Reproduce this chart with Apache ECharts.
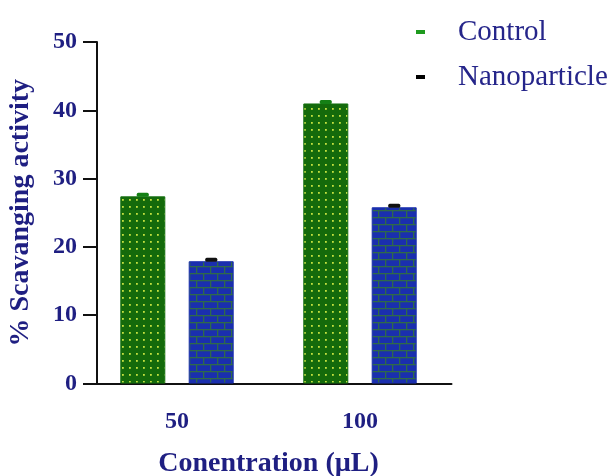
<!DOCTYPE html>
<html><head><meta charset="utf-8">
<script src="https://cdn.jsdelivr.net/npm/echarts@6/dist/echarts.min.js"></script>
<style>html,body{margin:0;padding:0;background:#fff}#c{width:613px;height:476px}</style>
</head><body><div id="c"></div>
<script>
const categories = ['50', '100'];
const controlValues = [27.4, 41.0];
const nanoValues = [17.9, 25.8];
const controlErr = [0.3, 0.3];
const nanoErr = [0.3, 0.3];
const yTicks = [0, 10, 20, 30, 40, 50];

function makePattern(kind) {
  const c = document.createElement('canvas');
  if (kind === 'dots') {
    c.width = 7; c.height = 7;
    const g = c.getContext('2d');
    g.fillStyle = '#146a0b'; g.fillRect(0, 0, 7, 7);
    g.fillStyle = '#c4e040'; g.fillRect(3, 3, 1.8, 1.8);
  } else {
    c.width = 14; c.height = 14;
    const g = c.getContext('2d');
    g.fillStyle = '#1a2fae'; g.fillRect(0, 0, 14, 14);
    g.fillStyle = '#2f6a4a';
    g.fillRect(0, 0, 14, 1.3); g.fillRect(0, 7, 14, 1.3);
    g.fillRect(0, 0, 1.3, 7); g.fillRect(7, 7, 1.3, 7);
  }
  return { image: c, repeat: 'repeat' };
}
function iconImg(color) {
  const c = document.createElement('canvas');
  c.width = 9; c.height = 4;
  const g = c.getContext('2d');
  g.fillStyle = color; g.fillRect(0, 0, 9, 4);
  return 'image://' + c.toDataURL();
}

const navy = '#1f1f82';
const font = '"Liberation Serif", "DejaVu Serif", serif';
const chart = echarts.init(document.getElementById('c'), null, { renderer: 'canvas' });

function errItem(offset, color) {
  return function (params, api) {
    const idx = api.value(0);
    const v = api.value(1);
    const e = api.value(2);
    const top = api.coord([idx, v + e]);
    const bot = api.coord([idx, v]);
    const x = top[0] + offset;
    return {
      type: 'rect',
      shape: { x: x - 6, y: top[1] - 1.5, width: 12, height: Math.max(bot[1] - top[1], 0) + 2, r: 1.5 },
      style: { fill: color }
    };
  };
}

chart.setOption({
  animation: false,
  grid: { left: 85.5, right: 161.5, top: 42, bottom: 92.5, containLabel: false, outerBoundsMode: 'none' },
  legend: {
    orient: 'vertical', left: 411, top: 12, itemWidth: 9, itemHeight: 4, itemGap: 15,
    textStyle: { fontFamily: font, fontSize: 29, lineHeight: 30, color: '#25258a', padding: [0, 0, 0, 28] },
    data: [
      { name: 'Control', icon: iconImg('#1e9a1e') },
      { name: 'Nanoparticle', icon: iconImg('#000000') }
    ]
  },
  xAxis: {
    type: 'category', data: categories,
    axisLine: { lineStyle: { color: '#111', width: 2 } },
    axisTick: { alignWithLabel: true, length: 13, lineStyle: { color: '#111', width: 2 } },
    axisLabel: { margin: 26, fontFamily: font, fontSize: 24, fontWeight: 'bold', color: navy },
    name: 'Conentration (µL)', nameLocation: 'middle', nameGap: 66,
    nameTextStyle: { fontFamily: font, fontSize: 28, fontWeight: 'bold', color: navy }
  },
  yAxis: {
    type: 'value', min: yTicks[0], max: yTicks[yTicks.length - 1], interval: 10, offset: -11.5,
    splitLine: { show: false },
    axisLine: { show: true, lineStyle: { color: '#111', width: 2 } },
    axisTick: { show: true, length: 14, lineStyle: { color: '#111', width: 2 } },
    axisLabel: { margin: 20, fontFamily: font, fontSize: 24, fontWeight: 'bold', color: navy },
    name: '% Scavanging activity', nameLocation: 'middle', nameGap: 62,
    nameTextStyle: { fontFamily: font, fontSize: 28, fontWeight: 'bold', color: navy }
  },
  series: [
    {
      name: 'Control', type: 'bar', data: controlValues, barWidth: 45, barGap: '52%',
      itemStyle: { color: makePattern('dots'), borderColor: '#147010', borderWidth: 1 }
    },
    {
      name: 'Nanoparticle', type: 'bar', data: nanoValues, barWidth: 45,
      itemStyle: { color: makePattern('bricks'), borderColor: '#1a2fae', borderWidth: 1 }
    },
    {
      name: 'ControlErr', type: 'custom', z: 5,
      data: controlValues.map((v, i) => [i, v, controlErr[i]]),
      renderItem: errItem(-34.25, '#158015')
    },
    {
      name: 'NanoErr', type: 'custom', z: 5,
      data: nanoValues.map((v, i) => [i, v, nanoErr[i]]),
      renderItem: errItem(34.25, '#111')
    }
  ]
});
</script></body></html>
